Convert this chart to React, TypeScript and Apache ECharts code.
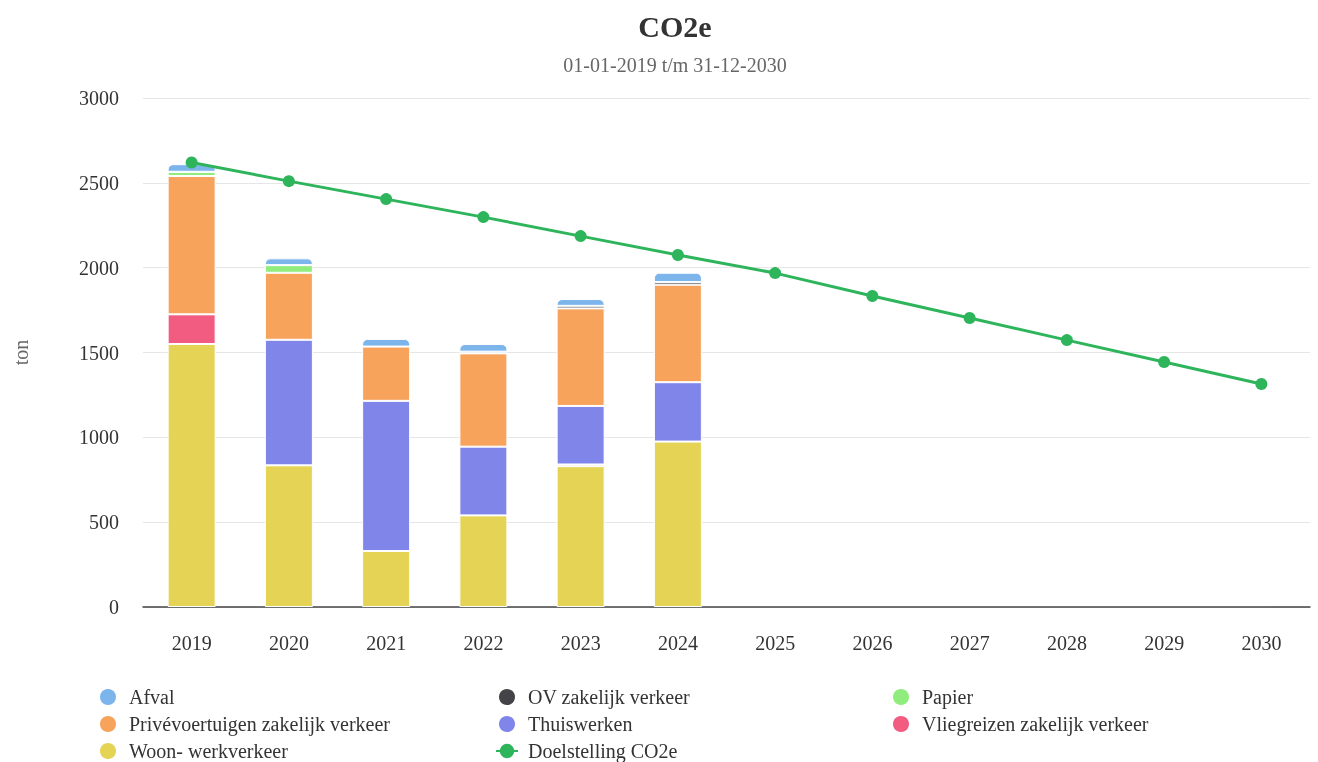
import React, { useEffect, useRef } from "react";
import * as echarts from "echarts";

const years = ["2019", "2020", "2021", "2022", "2023", "2024", "2025", "2026", "2027", "2028", "2029", "2030"];
const afval = [45, 40, 45, 45, 40, 55];
const ov = [0, 0, 0, 10, 15, 15];
const papier = [25, 45, 0, 0, 0, 0];
const prive = [815, 395, 320, 550, 575, 575];
const thuiswerken = [0, 740, 885, 405, 345, 350];
const vliegreizen = [175, 0, 0, 0, 10, 0];
const woonWerk = [1550, 835, 330, 540, 830, 975];
const doelstelling = [2620, 2510, 2404, 2298, 2186, 2075, 1968, 1833, 1703, 1573, 1444, 1314];
const yTicks = [0, 500, 1000, 1500, 2000, 2500, 3000];

const FONT = "'Liberation Serif', 'Times New Roman', serif";

export default function App() {
  const ref = useRef<HTMLDivElement>(null);
  useEffect(() => {
    if (!ref.current) return;
    const chart = echarts.init(ref.current, undefined, { renderer: "svg" });
    const barBase = {
      type: "bar",
      stack: "total",
      barWidth: 48,
      itemStyle: { borderColor: "#ffffff", borderWidth: 1 },
    };
    const legendCommon = {
      type: "plain",
      orient: "vertical",
      top: 687,
      height: 120,
      padding: 0,
      itemWidth: 22,
      itemHeight: 18,
      itemGap: 7,
      textStyle: { fontFamily: FONT, fontSize: 20, color: "#333333", lineHeight: 20, padding: [0, 0, 0, 5] },
    };
    chart.setOption({
      animation: false,
      textStyle: { fontFamily: FONT },
      graphic: [
        {
          type: "text",
          x: 675,
          y: 26,
          style: { text: "CO2e", fontFamily: FONT, fontSize: 30, fontWeight: "bold", fill: "#333333", textAlign: "center", textVerticalAlign: "middle" },
        },
        {
          type: "text",
          x: 675,
          y: 65,
          style: { text: "01-01-2019 t/m 31-12-2030", fontFamily: FONT, fontSize: 20, fill: "#666666", textAlign: "center", textVerticalAlign: "middle" },
        },
      ],
      grid: { left: 143, right: 8, top: 98, bottom: 155 },
      legend: [
        {
          ...legendCommon,
          left: 98,
          data: [
            { name: "Afval", icon: "circle" },
            { name: "Privévoertuigen zakelijk verkeer", icon: "circle" },
            { name: "Woon- werkverkeer", icon: "circle" },
          ],
        },
        {
          ...legendCommon,
          left: 495,
          data: [
            { name: "OV zakelijk verkeer", icon: "circle" },
            { name: "Thuiswerken", icon: "circle" },
            { name: "Doelstelling CO2e" },
          ],
        },
        {
          ...legendCommon,
          left: 891,
          data: [
            { name: "Papier", icon: "circle" },
            { name: "Vliegreizen zakelijk verkeer", icon: "circle" },
          ],
        },
      ],
      xAxis: {
        type: "category",
        data: years,
        axisTick: { show: false },
        axisLine: { lineStyle: { color: "#444444", width: 1.5 } },
        axisLabel: { fontFamily: FONT, fontSize: 20, color: "#333333", margin: 26 },
      },
      yAxis: {
        type: "value",
        min: yTicks[0],
        max: yTicks[yTicks.length - 1],
        interval: 500,
        name: "ton",
        nameLocation: "middle",
        nameGap: 112,
        nameRotate: 90,
        nameTextStyle: { fontFamily: FONT, fontSize: 20, color: "#666666" },
        axisLabel: { fontFamily: FONT, fontSize: 20, color: "#333333", margin: 24, formatter: (v: number) => String(v) },
        splitLine: { lineStyle: { color: "#e6e6e6", width: 1 } },
      },
      series: [
        { ...barBase, name: "Woon- werkverkeer", data: woonWerk, itemStyle: { ...barBase.itemStyle, color: "#e4d354" } },
        { ...barBase, name: "Vliegreizen zakelijk verkeer", data: vliegreizen, itemStyle: { ...barBase.itemStyle, color: "#f15c80" } },
        { ...barBase, name: "Thuiswerken", data: thuiswerken, itemStyle: { ...barBase.itemStyle, color: "#8085e9" } },
        { ...barBase, name: "Privévoertuigen zakelijk verkeer", data: prive, itemStyle: { ...barBase.itemStyle, color: "#f7a35c" } },
        { ...barBase, name: "Papier", data: papier, itemStyle: { ...barBase.itemStyle, color: "#90ed7d" } },
        { ...barBase, name: "OV zakelijk verkeer", data: ov, itemStyle: { ...barBase.itemStyle, color: "#434348" } },
        { ...barBase, name: "Afval", data: afval, itemStyle: { ...barBase.itemStyle, color: "#7cb5ec", borderRadius: [5, 5, 0, 0] } },
        {
          type: "line",
          name: "Doelstelling CO2e",
          data: doelstelling,
          symbol: "circle",
          symbolSize: 12,
          lineStyle: { color: "#2eb55c", width: 3 },
          itemStyle: { color: "#2eb55c" },
          z: 5,
        },
      ],
    });
    return () => chart.dispose();
  }, []);
  return <div ref={ref} style={{ position: "fixed", left: 0, top: 0, width: 1318, height: 762 }} />;
}
